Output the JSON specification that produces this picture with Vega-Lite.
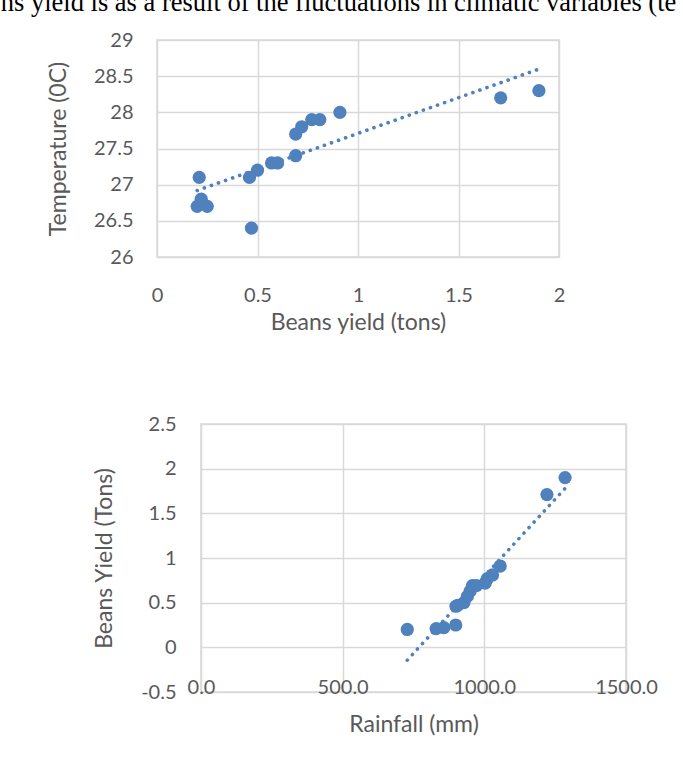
{
  "$schema": "https://vega.github.io/schema/vega-lite/v6.json",
  "background": "white",
  "padding": {"left": 0, "top": -11, "right": 0, "bottom": 0},
  "title": {
    "text": "ns yield is as a result of the fluctuations in climatic variables (te",
    "anchor": "start",
    "frame": "bounds",
    "font": "Liberation Serif",
    "fontSize": 26.5,
    "fontWeight": "normal",
    "color": "#000000",
    "offset": 13,
    "dx": -46
  },
  "datasets": {
    "temp": [
      {"yield": 0.21, "temp": 27.1},
      {"yield": 0.2, "temp": 26.7},
      {"yield": 0.22, "temp": 26.8},
      {"yield": 0.25, "temp": 26.7},
      {"yield": 0.47, "temp": 26.4},
      {"yield": 0.46, "temp": 27.1},
      {"yield": 0.5, "temp": 27.2},
      {"yield": 0.57, "temp": 27.3},
      {"yield": 0.6, "temp": 27.3},
      {"yield": 0.69, "temp": 27.4},
      {"yield": 0.69, "temp": 27.7},
      {"yield": 0.72, "temp": 27.8},
      {"yield": 0.77, "temp": 27.9},
      {"yield": 0.81, "temp": 27.9},
      {"yield": 0.91, "temp": 28.0},
      {"yield": 1.71, "temp": 28.2},
      {"yield": 1.9, "temp": 28.3}
    ],
    "rain": [
      {"rain": 728, "yield": 0.2},
      {"rain": 830, "yield": 0.21},
      {"rain": 857, "yield": 0.22},
      {"rain": 899, "yield": 0.25},
      {"rain": 900, "yield": 0.46},
      {"rain": 906, "yield": 0.47},
      {"rain": 928, "yield": 0.5},
      {"rain": 940, "yield": 0.57},
      {"rain": 950, "yield": 0.63},
      {"rain": 958, "yield": 0.69},
      {"rain": 972, "yield": 0.69},
      {"rain": 1003, "yield": 0.72},
      {"rain": 1011, "yield": 0.77},
      {"rain": 1029, "yield": 0.81},
      {"rain": 1056, "yield": 0.91},
      {"rain": 1221, "yield": 1.71},
      {"rain": 1285, "yield": 1.9}
    ]
  },
  "spacing": 78,
  "vconcat": [
    {
      "width": 402,
      "height": 217,
      "data": {"name": "temp"},
      "encoding": {
        "x": {
          "field": "yield",
          "type": "quantitative",
          "scale": {"domain": [0, 2], "nice": false, "zero": false},
          "axis": {
            "title": "Beans yield (tons)",
            "values": [0, 0.5, 1, 1.5, 2],
            "format": ".1~f",
            "labelBaseline": "middle",
            "labelPadding": 38,
            "titlePadding": 6
          }
        },
        "y": {
          "field": "temp",
          "type": "quantitative",
          "scale": {"domain": [26, 29], "nice": false, "zero": false},
          "axis": {
            "title": "Temperature (0C)",
            "values": [26, 26.5, 27, 27.5, 28, 28.5, 29],
            "format": ".1~f",
            "labelPadding": 24,
            "titlePadding": 23
          }
        }
      },
      "layer": [
        {"mark": {"type": "circle", "size": 175, "opacity": 1, "color": "#4F81BD"}},
        {
          "transform": [{"regression": "temp", "on": "yield"}],
          "mark": {"type": "line", "color": "#4F81BD", "strokeDash": [0.1, 7.4], "strokeCap": "round", "strokeWidth": 3.6}
        }
      ]
    },
    {
      "spacing": 0,
      "bounds": "flush",
      "hconcat": [
        {
          "width": 44,
          "height": 10,
          "data": {"values": []},
          "mark": {"type": "point", "opacity": 0},
          "encoding": {},
          "view": {"stroke": null}
        },
        {
          "width": 425,
          "height": 268,
          "data": {"name": "rain"},
          "encoding": {
            "x": {
              "field": "rain",
              "type": "quantitative",
              "scale": {"domain": [0, 1500], "nice": false},
              "axis": {
                "title": "Rainfall (mm)",
                "values": [0, 500, 1000, 1500],
                "format": ".1f",
                "labelBaseline": "middle",
                "labelPadding": -5,
                "titlePadding": 16
              }
            },
            "y": {
              "field": "yield",
              "type": "quantitative",
              "scale": {"domain": [-0.5, 2.5], "nice": false, "zero": false},
              "axis": {
                "title": "Beans Yield (Tons)",
                "values": [-0.5, 0, 0.5, 1, 1.5, 2, 2.5],
                "format": ".1~f",
                "labelExpr": "replace(datum.label, '\u2212', '-')",
                "labelPadding": 25,
                "titlePadding": 24
              }
            }
          },
          "layer": [
            {"mark": {"type": "circle", "size": 175, "opacity": 1, "color": "#4F81BD"}},
            {
              "transform": [{"regression": "yield", "on": "rain"}],
              "mark": {"type": "line", "color": "#4F81BD", "strokeDash": [0.1, 7.4], "strokeCap": "round", "strokeWidth": 3.6}
            }
          ]
        }
      ]
    }
  ],
  "config": {
    "font": "Lato",
    "view": {"stroke": "#d9d9d9", "strokeWidth": 1.5},
    "axis": {
      "labelFont": "Lato",
      "labelFontSize": 20,
      "labelColor": "#595959",
      "titleFont": "Lato",
      "titleFontSize": 23,
      "titleFontWeight": "normal",
      "titleColor": "#595959",
      "gridColor": "#d9d9d9",
      "gridWidth": 1.5,
      "domain": false,
      "ticks": false,
      "tickSize": 0,
      "labelOverlap": false,
      "labelBound": false,
      "labelFlush": false
    }
  }
}
